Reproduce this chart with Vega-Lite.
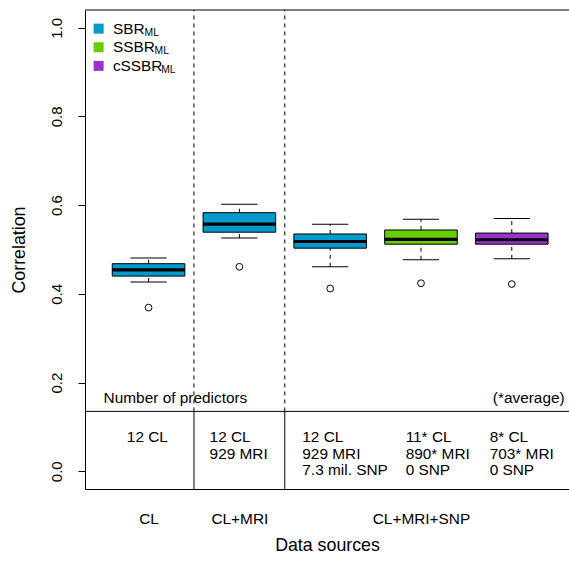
{
  "$schema": "https://vega.github.io/schema/vega-lite/v6.json",
  "width": 484,
  "height": 479,
  "autosize": {"type": "none"},
  "padding": {"left": 85, "top": 10, "right": 0, "bottom": 72},
  "config": {
    "font": "Liberation Sans",
    "view": {"stroke": null},
    "axis": {"grid": false, "domainColor": "black", "tickColor": "black", "labelColor": "black", "titleColor": "black", "titleFontWeight": "normal", "labelFontSize": 15, "titleFontSize": 17.8, "domainWidth": 1}
  },
  "datasets": {
    "boxes": [
      {"pos": 1, "method": "SBR", "source": "CL", "lo": 0.427, "q1": 0.440, "med": 0.454, "q3": 0.468, "hi": 0.481, "out": 0.369},
      {"pos": 2, "method": "SBR", "source": "CL+MRI", "lo": 0.526, "q1": 0.539, "med": 0.557, "q3": 0.583, "hi": 0.602, "out": 0.461},
      {"pos": 3, "method": "SBR", "source": "CL+MRI+SNP", "lo": 0.461, "q1": 0.503, "med": 0.518, "q3": 0.535, "hi": 0.557, "out": 0.412},
      {"pos": 4, "method": "SSBR", "source": "CL+MRI+SNP", "lo": 0.477, "q1": 0.512, "med": 0.523, "q3": 0.544, "hi": 0.568, "out": 0.424},
      {"pos": 5, "method": "cSSBR", "source": "CL+MRI+SNP", "lo": 0.479, "q1": 0.512, "med": 0.522, "q3": 0.537, "hi": 0.570, "out": 0.422}
    ],
    "separators": [{"sep": 1.5}, {"sep": 2.5}],
    "cells": [
      {"tx": 0.761, "txt": "12 CL"},
      {"tx": 1.672, "txt": "12 CL\n929 MRI"},
      {"tx": 2.693, "txt": "12 CL\n929 MRI\n7.3 mil. SNP"},
      {"tx": 3.831, "txt": "11* CL\n890* MRI\n0 SNP"},
      {"tx": 4.756, "txt": "8* CL\n703* MRI\n0 SNP"}
    ],
    "legend": [
      {"method": "SBR", "ly": 0.998, "sx": 0.956},
      {"method": "SSBR", "ly": 0.956, "sx": 1.066},
      {"method": "cSSBR", "ly": 0.914, "sx": 1.140}
    ],
    "one": [{}]
  },
  "layer": [
    {
      "data": {"name": "boxes"},
      "mark": {"type": "rule", "color": "black", "strokeDash": [4, 4], "strokeWidth": 1},
      "encoding": {
        "x": {"field": "pos", "type": "quantitative", "scale": {"domain": [0.3, 5.63], "nice": false, "zero": false, "padding": 0},
          "axis": {"values": [1, 2, 4], "ticks": false, "tickSize": 0, "labelExpr": "datum.value == 1 ? 'CL' : datum.value == 2 ? 'CL+MRI' : 'CL+MRI+SNP'", "labelFontSize": 15.4, "labelPadding": 22.7, "labelFlush": false, "labelOverlap": false, "title": "Data sources", "titlePadding": 9.6}},
        "y": {"field": "q3", "type": "quantitative", "scale": {"domain": [-0.04, 1.04], "nice": false, "zero": false, "padding": 0},
          "axis": {"values": [0, 0.2, 0.4, 0.6, 0.8, 1.0], "format": ".1f", "tickSize": 7, "labelAngle": 270, "labelAlign": "center", "labelBaseline": "bottom", "labelPadding": 14, "title": "Correlation", "titleBaseline": "bottom", "titlePadding": 21}},
        "y2": {"field": "hi"}
      }
    },
    {
      "data": {"name": "boxes"},
      "mark": {"type": "rule", "color": "black", "strokeDash": [4, 4], "strokeWidth": 1},
      "encoding": {
        "x": {"field": "pos", "type": "quantitative", "scale": {"domain": [0.3, 5.63], "nice": false, "zero": false, "padding": 0}},
        "y": {"field": "lo", "type": "quantitative", "scale": {"domain": [-0.04, 1.04], "nice": false, "zero": false, "padding": 0}},
        "y2": {"field": "q1"}
      }
    },
    {
      "data": {"name": "boxes"},
      "mark": {"type": "tick", "orient": "horizontal", "color": "black", "size": 36.3, "thickness": 1, "opacity": 1},
      "encoding": {
        "x": {"field": "pos", "type": "quantitative", "scale": {"domain": [0.3, 5.63], "nice": false, "zero": false, "padding": 0}},
        "y": {"field": "hi", "type": "quantitative", "scale": {"domain": [-0.04, 1.04], "nice": false, "zero": false, "padding": 0}}
      }
    },
    {
      "data": {"name": "boxes"},
      "mark": {"type": "tick", "orient": "horizontal", "color": "black", "size": 36.3, "thickness": 1, "opacity": 1},
      "encoding": {
        "x": {"field": "pos", "type": "quantitative", "scale": {"domain": [0.3, 5.63], "nice": false, "zero": false, "padding": 0}},
        "y": {"field": "lo", "type": "quantitative", "scale": {"domain": [-0.04, 1.04], "nice": false, "zero": false, "padding": 0}}
      }
    },
    {
      "data": {"name": "boxes"},
      "mark": {"type": "bar", "size": 72.6, "stroke": "black", "strokeWidth": 1, "opacity": 1},
      "encoding": {
        "x": {"field": "pos", "type": "quantitative", "scale": {"domain": [0.3, 5.63], "nice": false, "zero": false, "padding": 0}},
        "y": {"field": "q1", "type": "quantitative", "scale": {"domain": [-0.04, 1.04], "nice": false, "zero": false, "padding": 0}},
        "y2": {"field": "q3"},
        "fill": {"field": "method", "type": "nominal", "scale": {"domain": ["SBR", "SSBR", "cSSBR"], "range": ["#009ACD", "#66CD00", "#9A32CD"]}, "legend": null}
      }
    },
    {
      "data": {"name": "boxes"},
      "mark": {"type": "tick", "orient": "horizontal", "color": "black", "size": 72.6, "thickness": 3.2, "opacity": 1},
      "encoding": {
        "x": {"field": "pos", "type": "quantitative", "scale": {"domain": [0.3, 5.63], "nice": false, "zero": false, "padding": 0}},
        "y": {"field": "med", "type": "quantitative", "scale": {"domain": [-0.04, 1.04], "nice": false, "zero": false, "padding": 0}}
      }
    },
    {
      "data": {"name": "boxes"},
      "mark": {"type": "point", "shape": "circle", "filled": false, "color": "black", "strokeWidth": 1, "size": 46, "opacity": 1},
      "encoding": {
        "x": {"field": "pos", "type": "quantitative", "scale": {"domain": [0.3, 5.63], "nice": false, "zero": false, "padding": 0}},
        "y": {"field": "out", "type": "quantitative", "scale": {"domain": [-0.04, 1.04], "nice": false, "zero": false, "padding": 0}}
      }
    },
    {
      "data": {"name": "one"},
      "mark": {"type": "rule", "color": "black", "strokeWidth": 1},
      "encoding": {
        "y": {"datum": 1.04, "type": "quantitative", "scale": {"domain": [-0.04, 1.04], "nice": false, "zero": false, "padding": 0}}
      }
    },
    {
      "data": {"name": "one"},
      "mark": {"type": "rule", "color": "black", "strokeWidth": 1},
      "encoding": {
        "y": {"datum": 0.135, "type": "quantitative", "scale": {"domain": [-0.04, 1.04], "nice": false, "zero": false, "padding": 0}}
      }
    },
    {
      "data": {"name": "separators"},
      "mark": {"type": "rule", "color": "black", "strokeWidth": 1, "strokeDash": [4, 4]},
      "encoding": {
        "x": {"field": "sep", "type": "quantitative", "scale": {"domain": [0.3, 5.63], "nice": false, "zero": false, "padding": 0}},
        "y": {"datum": 0.135, "type": "quantitative", "scale": {"domain": [-0.04, 1.04], "nice": false, "zero": false, "padding": 0}},
        "y2": {"datum": 1.04}
      }
    },
    {
      "data": {"name": "separators"},
      "mark": {"type": "rule", "color": "black", "strokeWidth": 1},
      "encoding": {
        "x": {"field": "sep", "type": "quantitative", "scale": {"domain": [0.3, 5.63], "nice": false, "zero": false, "padding": 0}},
        "y": {"datum": -0.04, "type": "quantitative", "scale": {"domain": [-0.04, 1.04], "nice": false, "zero": false, "padding": 0}},
        "y2": {"datum": 0.135}
      }
    },
    {
      "data": {"name": "cells"},
      "mark": {"type": "text", "align": "left", "baseline": "top", "lineBreak": "\n", "lineHeight": 16.5, "fontSize": 15.4, "color": "black"},
      "encoding": {
        "x": {"field": "tx", "type": "quantitative", "scale": {"domain": [0.3, 5.63], "nice": false, "zero": false, "padding": 0}},
        "y": {"datum": 0.0927, "type": "quantitative", "scale": {"domain": [-0.04, 1.04], "nice": false, "zero": false, "padding": 0}},
        "text": {"field": "txt", "type": "nominal"}
      }
    },
    {
      "data": {"name": "one"},
      "mark": {"type": "text", "align": "left", "baseline": "alphabetic", "fontSize": 15.4, "color": "black", "text": "Number of predictors"},
      "encoding": {
        "x": {"datum": 0.505, "type": "quantitative", "scale": {"domain": [0.3, 5.63], "nice": false, "zero": false, "padding": 0}},
        "y": {"datum": 0.1537, "type": "quantitative", "scale": {"domain": [-0.04, 1.04], "nice": false, "zero": false, "padding": 0}}
      }
    },
    {
      "data": {"name": "one"},
      "mark": {"type": "text", "align": "right", "baseline": "alphabetic", "fontSize": 15.4, "color": "black", "text": "(*average)"},
      "encoding": {
        "x": {"datum": 5.582, "type": "quantitative", "scale": {"domain": [0.3, 5.63], "nice": false, "zero": false, "padding": 0}},
        "y": {"datum": 0.1537, "type": "quantitative", "scale": {"domain": [-0.04, 1.04], "nice": false, "zero": false, "padding": 0}}
      }
    },
    {
      "data": {"name": "legend"},
      "mark": {"type": "point", "shape": "square", "filled": true, "size": 100, "opacity": 1, "strokeWidth": 0},
      "encoding": {
        "x": {"datum": 0.45, "type": "quantitative", "scale": {"domain": [0.3, 5.63], "nice": false, "zero": false, "padding": 0}},
        "y": {"field": "ly", "type": "quantitative", "scale": {"domain": [-0.04, 1.04], "nice": false, "zero": false, "padding": 0}},
        "fill": {"field": "method", "type": "nominal", "scale": {"domain": ["SBR", "SSBR", "cSSBR"], "range": ["#009ACD", "#66CD00", "#9A32CD"]}, "legend": null}
      }
    },
    {
      "data": {"name": "legend"},
      "mark": {"type": "text", "align": "left", "baseline": "middle", "fontSize": 15.4, "color": "black"},
      "encoding": {
        "x": {"datum": 0.607, "type": "quantitative", "scale": {"domain": [0.3, 5.63], "nice": false, "zero": false, "padding": 0}},
        "y": {"field": "ly", "type": "quantitative", "scale": {"domain": [-0.04, 1.04], "nice": false, "zero": false, "padding": 0}},
        "text": {"field": "method", "type": "nominal"}
      }
    },
    {
      "data": {"name": "legend"},
      "mark": {"type": "text", "align": "left", "baseline": "middle", "fontSize": 10.3, "dy": 4, "color": "black", "text": "ML"},
      "encoding": {
        "x": {"field": "sx", "type": "quantitative", "scale": {"domain": [0.3, 5.63], "nice": false, "zero": false, "padding": 0}},
        "y": {"field": "ly", "type": "quantitative", "scale": {"domain": [-0.04, 1.04], "nice": false, "zero": false, "padding": 0}}
      }
    }
  ]
}
